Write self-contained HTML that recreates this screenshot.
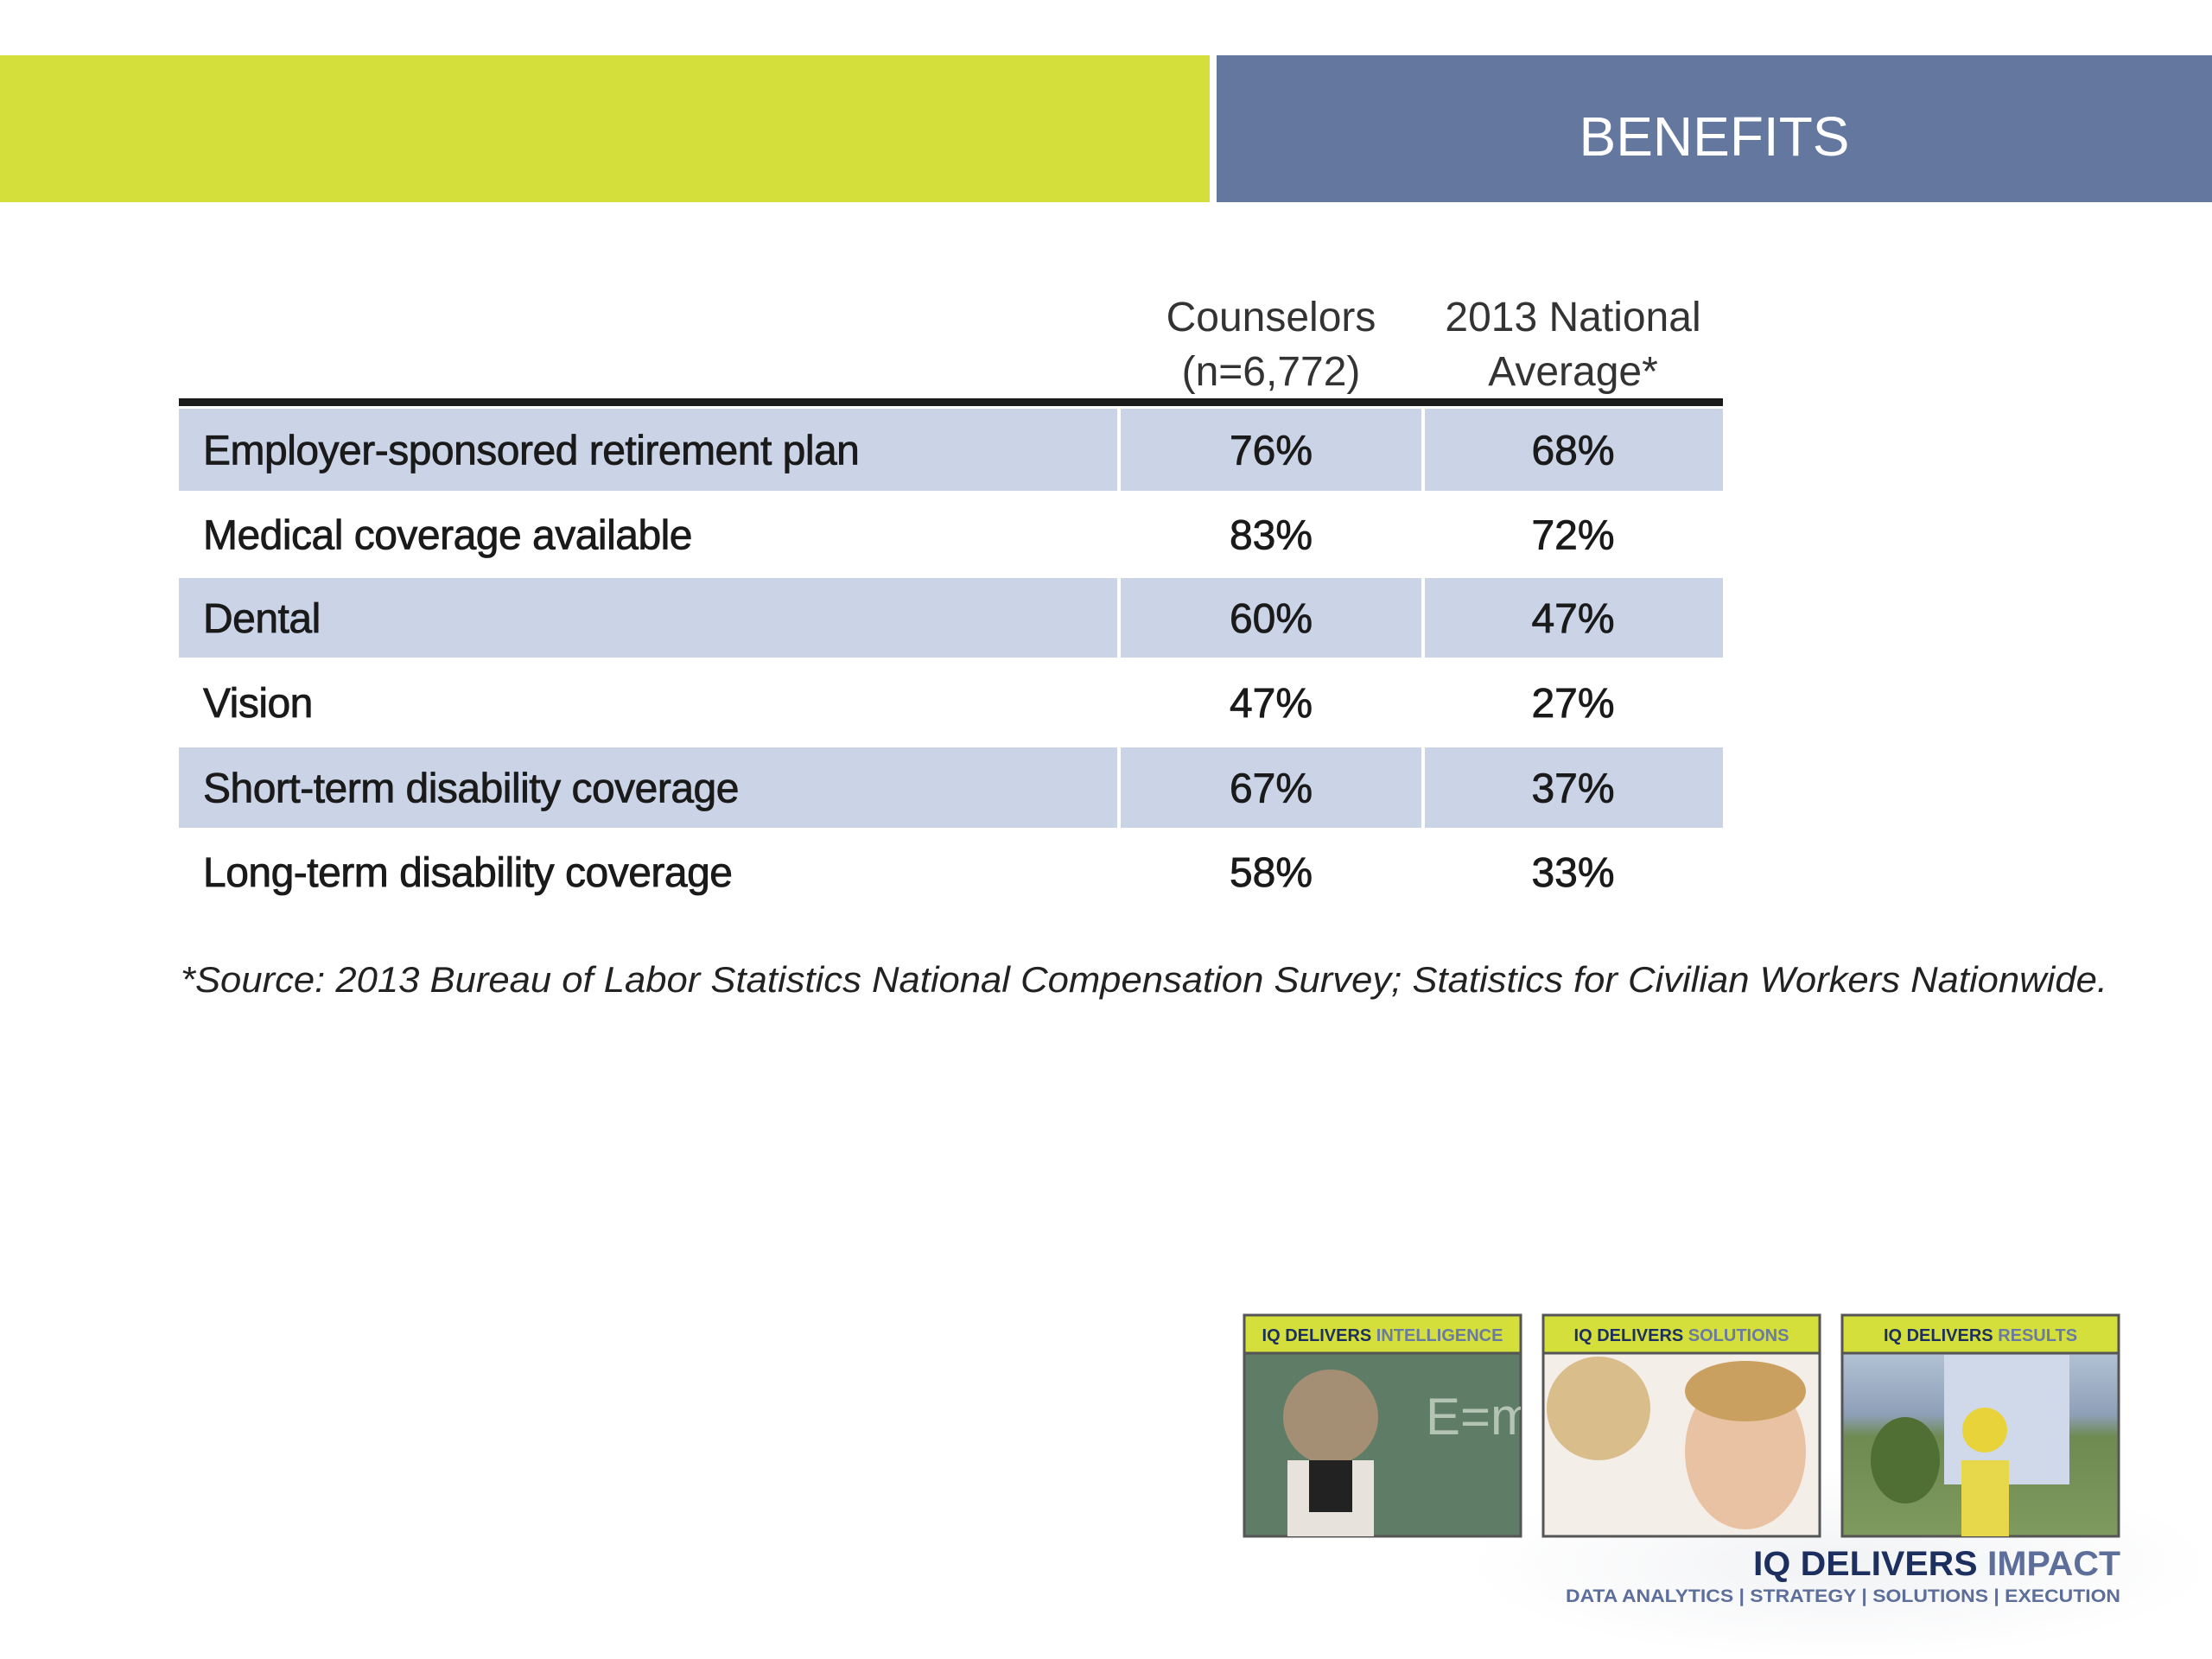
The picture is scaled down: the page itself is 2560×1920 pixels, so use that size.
<!DOCTYPE html>
<html><head><meta charset="utf-8">
<style>
html,body{margin:0;padding:0;background:#fff;}
svg{display:block;}
text{font-family:"Liberation Sans",sans-serif;}
</style></head>
<body>
<svg id="slide" width="2560" height="1920" viewBox="0 0 2560 1920" xmlns="http://www.w3.org/2000/svg">
  <defs>
    <linearGradient id="sky" x1="0" y1="0" x2="0" y2="1">
      <stop offset="0" stop-color="#c9d6e6"/><stop offset="0.45" stop-color="#8ea0b8"/><stop offset="0.55" stop-color="#6f8a52"/><stop offset="1" stop-color="#7f9a5e"/>
    </linearGradient>
    <radialGradient id="fade" cx="0.5" cy="0.5" r="0.5">
      <stop offset="0" stop-color="#e8eaee"/><stop offset="1" stop-color="#ffffff"/>
    </radialGradient>
    <clipPath id="clip1"><rect x="1440" y="1522" width="320" height="256"/></clipPath>
  </defs>
  <rect x="1700" y="1700" width="860" height="220" fill="url(#fade)" opacity="0.6"/>
  <rect x="0" y="64" width="1400" height="170" fill="#d4df3b"/>
  <rect x="1408" y="64" width="1152" height="170" fill="#63779f"/>
  <text x="1984" y="180" text-anchor="middle" font-size="64" fill="#ffffff">BENEFITS</text>

  <g id="table"></g>

  <text x="209" y="1148" font-size="42" font-style="italic" fill="#222" textLength="2230" lengthAdjust="spacingAndGlyphs">*Source: 2013 Bureau of Labor Statistics National Compensation Survey; Statistics for Civilian Workers Nationwide.</text>

  <g>
    <rect x="1440" y="1522" width="320" height="256" fill="#5f7d66" stroke="#555" stroke-width="3"/>
    <g clip-path="url(#clip1)">
      <text x="1650" y="1660" font-size="60" fill="#c8d6c8" opacity="0.8">E=mc</text>
      <circle cx="1540" cy="1640" r="55" fill="#a58f74"/>
      <rect x="1490" y="1690" width="100" height="88" fill="#e8e2dc"/>
      <rect x="1515" y="1690" width="50" height="60" fill="#222"/>
    </g>
    <rect x="1440" y="1522" width="320" height="44" fill="#d4df3b" stroke="#555" stroke-width="3"/>
    <text x="1600" y="1552" text-anchor="middle" font-size="20" font-weight="bold" fill="#1d2f5e">IQ DELIVERS <tspan fill="#6a7aa0">INTELLIGENCE</tspan></text>
  </g>
  <g>
    <rect x="1786" y="1522" width="320" height="256" fill="#f4eee8" stroke="#555" stroke-width="3"/>
    <ellipse cx="1850" cy="1630" rx="60" ry="60" fill="#d9bd8a"/>
    <ellipse cx="2020" cy="1680" rx="70" ry="90" fill="#e9c2a4"/>
    <ellipse cx="2020" cy="1610" rx="70" ry="35" fill="#c9a060"/>
    <rect x="1786" y="1522" width="320" height="44" fill="#d4df3b" stroke="#555" stroke-width="3"/>
    <text x="1946" y="1552" text-anchor="middle" font-size="20" font-weight="bold" fill="#1d2f5e">IQ DELIVERS <tspan fill="#6a7aa0">SOLUTIONS</tspan></text>
  </g>
  <g>
    <rect x="2132" y="1522" width="320" height="256" fill="url(#sky)" stroke="#555" stroke-width="3"/>
    <rect x="2250" y="1568" width="145" height="150" fill="#cfd9ea"/>
    <ellipse cx="2205" cy="1690" rx="40" ry="50" fill="#4f6f34"/>
    <rect x="2270" y="1690" width="55" height="88" fill="#e6d84a"/>
    <circle cx="2297" cy="1655" r="26" fill="#e8d43a"/>
    <rect x="2132" y="1522" width="320" height="44" fill="#d4df3b" stroke="#555" stroke-width="3"/>
    <text x="2292" y="1552" text-anchor="middle" font-size="20" font-weight="bold" fill="#1d2f5e">IQ DELIVERS <tspan fill="#6a7aa0">RESULTS</tspan></text>
  </g>

  <text x="2029" y="1823" font-size="40" font-weight="bold" fill="#1d2f5e" textLength="425" lengthAdjust="spacingAndGlyphs">IQ DELIVERS <tspan fill="#5d6e9a">IMPACT</tspan></text>
  <text x="1812" y="1854" font-size="21" font-weight="bold" fill="#5d6e9a" textLength="642" lengthAdjust="spacingAndGlyphs">DATA ANALYTICS | STRATEGY | SOLUTIONS | EXECUTION</text>
</svg>
<script>
const categories = ["Employer-sponsored retirement plan","Medical coverage available","Dental","Vision","Short-term disability coverage","Long-term disability coverage"];
const counselors = [76, 83, 60, 47, 67, 58];
const national = [68, 72, 47, 27, 37, 33];
const colHeaders = [["Counselors","(n=6,772)"],["2013 National","Average*"]];

const NS = "http://www.w3.org/2000/svg";
const g = document.getElementById("table");
const left = 207, right = 1994, col1 = 1295, col2 = 1647;
const rowTops = [473, 568, 669, 761, 865, 958, 1060];
function mk(tag, attrs, txt) {
  const e = document.createElementNS(NS, tag);
  for (const k in attrs) e.setAttribute(k, attrs[k]);
  if (txt !== undefined) e.textContent = txt;
  g.appendChild(e);
  return e;
}
const centers = [(col1 + col2) / 2, (col2 + right) / 2];
colHeaders.forEach((lines, c) => {
  lines.forEach((ln, i) => {
    const t = mk("text", {x: centers[c], y: 383 + i * 63, "text-anchor": "middle", "font-size": 48, fill: "#333"}, ln);
    
    
  });
});
const rule = mk("rect", {x: left, y: 461, width: right - left, height: 9, fill: "#1a1a1a"});


categories.forEach((cat, i) => {
  const top = rowTops[i], h = rowTops[i + 1] - top, cy = top + h / 2 + 17;
  if (i % 2 === 0) {
    const bg = mk("rect", {x: left, y: top, width: right - left, height: h, fill: "#cbd3e7"});
    
    
    const d1 = mk("rect", {x: col1 - 2, y: top, width: 4, height: h, fill: "#ffffff"});
    
    
    const d2 = mk("rect", {x: col2 - 2, y: top, width: 4, height: h, fill: "#ffffff"});
    
    
  }
  const lab = mk("text", {x: 235, y: cy, "font-size": 48, fill: "#1a1a1a", "letter-spacing": "-0.5", stroke: "#1a1a1a", "stroke-width": "0.8"}, cat);
  
  
  const v1 = mk("text", {x: centers[0], y: cy, "text-anchor": "middle", "font-size": 48, fill: "#1a1a1a", stroke: "#1a1a1a", "stroke-width": "0.8"}, counselors[i] + "%");
  
  
  const v2 = mk("text", {x: centers[1], y: cy, "text-anchor": "middle", "font-size": 48, fill: "#1a1a1a", stroke: "#1a1a1a", "stroke-width": "0.8"}, national[i] + "%");
  
  
});
</script>
</body></html>
